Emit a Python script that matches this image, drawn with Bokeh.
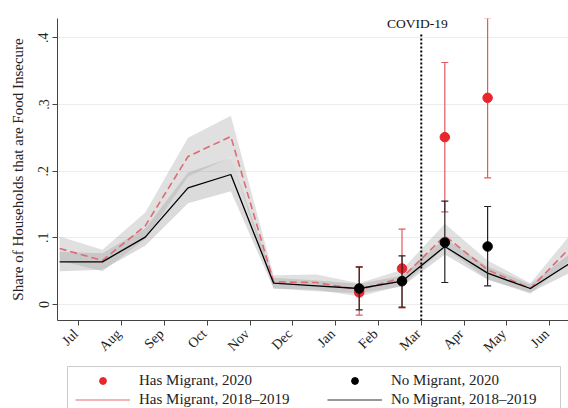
import math
from bokeh.plotting import figure
from bokeh.layouts import column
from bokeh.models import (Range1d, FixedTicker, ColumnDataSource, Legend, LegendItem,
                          BoxAnnotation, LinearAxis)
from bokeh.core.properties import value
from bokeh.embed import file_html
from bokeh.resources import INLINE

# ---------------- data ----------------
tick_months = ["Jul", "Aug", "Sep", "Oct", "Nov", "Dec", "Jan", "Feb", "Mar", "Apr", "May", "Jun"]

# 2018-2019 averages (mid-month), Jun .. Jun
base_months = ["Jun", "Jul", "Aug", "Sep", "Oct", "Nov", "Dec", "Jan", "Feb", "Mar", "Apr", "May", "Jun"]
no_mig_mean = [0.064, 0.064, 0.101, 0.175, 0.195, 0.032, 0.028, 0.024, 0.035, 0.087, 0.047, 0.024, 0.065]
no_mig_lo   = [0.050, 0.052, 0.088, 0.152, 0.170, 0.024, 0.020, 0.017, 0.027, 0.075, 0.037, 0.018, 0.050]
no_mig_hi   = [0.079, 0.077, 0.114, 0.198, 0.220, 0.040, 0.036, 0.031, 0.043, 0.099, 0.057, 0.030, 0.080]
has_mig_mean = [0.084, 0.066, 0.118, 0.222, 0.252, 0.034, 0.033, 0.022, 0.040, 0.103, 0.052, 0.024, 0.090]
has_mig_lo   = [0.066, 0.050, 0.098, 0.192, 0.221, 0.024, 0.022, 0.012, 0.028, 0.085, 0.038, 0.016, 0.070]
has_mig_hi   = [0.102, 0.082, 0.138, 0.250, 0.283, 0.044, 0.045, 0.032, 0.052, 0.121, 0.066, 0.032, 0.110]

# 2020 observations
months_2020 = ["Jan", "Feb", "Mar", "Apr"]
has_2020_mean = [0.018, 0.054, 0.251, 0.310]
has_2020_lo   = [-0.016, -0.005, 0.139, 0.190]
has_2020_hi   = [0.057, 0.113, 0.363, 0.430]
no_2020_mean  = [0.024, 0.035, 0.093, 0.087]
no_2020_lo    = [-0.008, -0.004, 0.033, 0.028]
no_2020_hi    = [0.056, 0.073, 0.155, 0.147]

covid_month = "Mar"

legend_labels = ["Has Migrant, 2020", "No Migrant, 2020",
                 "Has Migrant, 2018–2019", "No Migrant, 2018–2019"]

# ---------------- positions ----------------
MID = 0.55  # data dated mid-month, ticks at month start
base_x = [k - 1 + MID for k in range(len(base_months))]
x_2020 = [tick_months.index(m) + MID for m in months_2020]

FONT = "Liberation Serif"
RED_PT = "#e8262e"
RED_LINE = "#e06a72"
RED_BAR = "#e05a5f"

p = figure(frame_width=511, frame_height=302,
           x_range=Range1d(-0.5, 11.44), y_range=Range1d(-0.024, 0.429),
           output_backend="svg", toolbar_location=None,
           min_border_left=57, min_border_right=0, min_border_top=18, min_border_bottom=40)
p.outline_line_color = None
p.background_fill_color = "white"
p.border_fill_color = "white"

# bands
p.varea(x=base_x, y1=no_mig_lo, y2=no_mig_hi, fill_color="#a0a0a0", fill_alpha=0.38)
p.varea(x=base_x, y1=has_mig_lo, y2=has_mig_hi, fill_color="#a0a0a0", fill_alpha=0.33)

# lines
p.line(base_x, has_mig_mean, line_color=RED_LINE, line_width=1.6, line_dash="7 4")
p.line(base_x, no_mig_mean, line_color="black", line_width=1.3)

# covid line
y0 = p.y_range.start
p.segment(x0=[tick_months.index(covid_month)], x1=[tick_months.index(covid_month)],
          y0=[y0], y1=[0.406], line_color="black", line_width=2, line_dash="2 2")
p.text(x=[tick_months.index(covid_month)], y=[0.411], text=["COVID-19"],
       text_font=value(FONT), text_font_size="13.5px", text_align="center",
       text_baseline="bottom", text_color="#111", x_offset=-4)

# 2020 error bars & points
src_h = ColumnDataSource(dict(x=x_2020, m=has_2020_mean, lo=has_2020_lo, hi=has_2020_hi))
src_n = ColumnDataSource(dict(x=x_2020, m=no_2020_mean, lo=no_2020_lo, hi=no_2020_hi))

p.segment(x0="x", x1="x", y0="lo", y1="hi", source=src_h, line_color=RED_BAR, line_width=1.2)
p.scatter(x="x", y="lo", source=src_h, marker="dash", size=7, line_color=RED_BAR, line_width=1.2)
p.scatter(x="x", y="hi", source=src_h, marker="dash", size=7, line_color=RED_BAR, line_width=1.2)
p.scatter(x="x", y="m", source=src_h, size=9.5, fill_color=RED_PT, line_color=RED_PT)

p.segment(x0="x", x1="x", y0="lo", y1="hi", source=src_n, line_color="#222", line_width=1.2)
p.scatter(x="x", y="lo", source=src_n, marker="dash", size=7, line_color="#222", line_width=1.2)
p.scatter(x="x", y="hi", source=src_n, marker="dash", size=7, line_color="#222", line_width=1.2)
p.scatter(x="x", y="m", source=src_n, size=9.5, fill_color="black", line_color="black")

# axes
p.xgrid.visible = False
p.ygrid.grid_line_color = "#ececec"
p.ygrid.grid_line_width = 1

p.yaxis.ticker = FixedTicker(ticks=[0, 0.1, 0.2, 0.3, 0.4])
p.yaxis.major_label_overrides = {0: "0", 0.1: ".1", 0.2: ".2", 0.3: ".3", 0.4: ".4"}
p.yaxis.major_label_orientation = "vertical"
p.yaxis.axis_label = "Share of Households that are Food Insecure"
p.yaxis.axis_label_text_font = FONT
p.yaxis.axis_label_text_font_style = "normal"
p.yaxis.axis_label_text_font_size = "15px"
p.yaxis.axis_label_text_color = "#222"
p.yaxis.axis_label_standoff = 10

# x axis: line + tick marks only
p.xaxis.ticker = FixedTicker(ticks=list(range(len(tick_months))))
p.xaxis.major_label_overrides = {i: "" for i in range(len(tick_months))}
p.xaxis.major_label_text_font_size = "0px"
p.xaxis.major_label_standoff = 0

for ax in (p.xaxis[0], p.yaxis[0]):
    ax.axis_line_color = "#444"
    ax.axis_line_width = 1
    ax.major_tick_line_color = "#444"
    ax.major_tick_out = 5
    ax.major_tick_in = 0
    ax.minor_tick_line_color = None
p.yaxis.major_label_text_font = FONT
p.yaxis.major_label_text_font_size = "14px"
p.yaxis.major_label_text_color = "#222"
p.yaxis.major_label_standoff = 4

# x axis labels: rotated, ending at the tick (label anchor shifted slightly left)
LABEL_SHIFT = 0.07
lab_ticks = [round(i - LABEL_SHIFT, 2) for i in range(len(tick_months))]
xlab = LinearAxis(ticker=FixedTicker(ticks=lab_ticks),
                  major_label_overrides={t: m for t, m in zip(lab_ticks, tick_months)},
                  major_label_orientation=math.pi / 4,
                  axis_line_color=None, major_tick_line_color=None, minor_tick_line_color=None,
                  major_tick_out=0, major_tick_in=0, major_label_standoff=6,
                  major_label_text_font=FONT, major_label_text_font_size="14px",
                  major_label_text_color="#222")
p.add_layout(xlab, "below")

# ---------------- legend panel (pixel-scaled frame) ----------------
QW, QH = 511, 60
q = figure(frame_width=QW, frame_height=QH, x_range=Range1d(0, QW), y_range=Range1d(0, QH),
           output_backend="svg", toolbar_location=None,
           min_border_left=57, min_border_right=0, min_border_top=0, min_border_bottom=0)
q.axis.visible = False
q.grid.visible = False
q.outline_line_color = None
q.background_fill_color = "white"
q.border_fill_color = "white"

q.add_layout(BoxAnnotation(left=10, right=503, top=57, bottom=-20,
                           fill_color=None, fill_alpha=0, line_color="#555", line_width=1))

nan_src = ColumnDataSource(dict(x=[float("nan")], y=[float("nan")]))
l_has = q.scatter(x="x", y="y", source=nan_src, size=9, fill_color=RED_PT, line_color=RED_PT)
l_no = q.scatter(x="x", y="y", source=nan_src, size=9, fill_color="black", line_color="black")
l_has_line = q.line(x="x", y="y", source=nan_src, line_color=RED_LINE, line_width=1.2)
l_no_line = q.line(x="x", y="y", source=nan_src, line_color="#333", line_width=1.2)


def make_legend(items, vx):
    lg = Legend(items=items, location=(vx, 15), orientation="vertical")
    lg.label_text_font = FONT
    lg.label_text_font_size = "15px"
    lg.label_text_color = "#222"
    lg.border_line_color = None
    lg.background_fill_alpha = 0
    lg.glyph_width = 55
    lg.glyph_height = 17
    lg.label_height = 17
    lg.label_standoff = 9
    lg.padding = 0
    lg.spacing = 2
    lg.margin = 0
    return lg


q.add_layout(make_legend([LegendItem(label=legend_labels[0], renderers=[l_has]),
                          LegendItem(label=legend_labels[2], renderers=[l_has_line])], 18), "center")
q.add_layout(make_legend([LegendItem(label=legend_labels[1], renderers=[l_no]),
                          LegendItem(label=legend_labels[3], renderers=[l_no_line])], 270), "center")

layout = column(p, q, spacing=0)
open("out.html", "w").write(file_html(layout, INLINE))
